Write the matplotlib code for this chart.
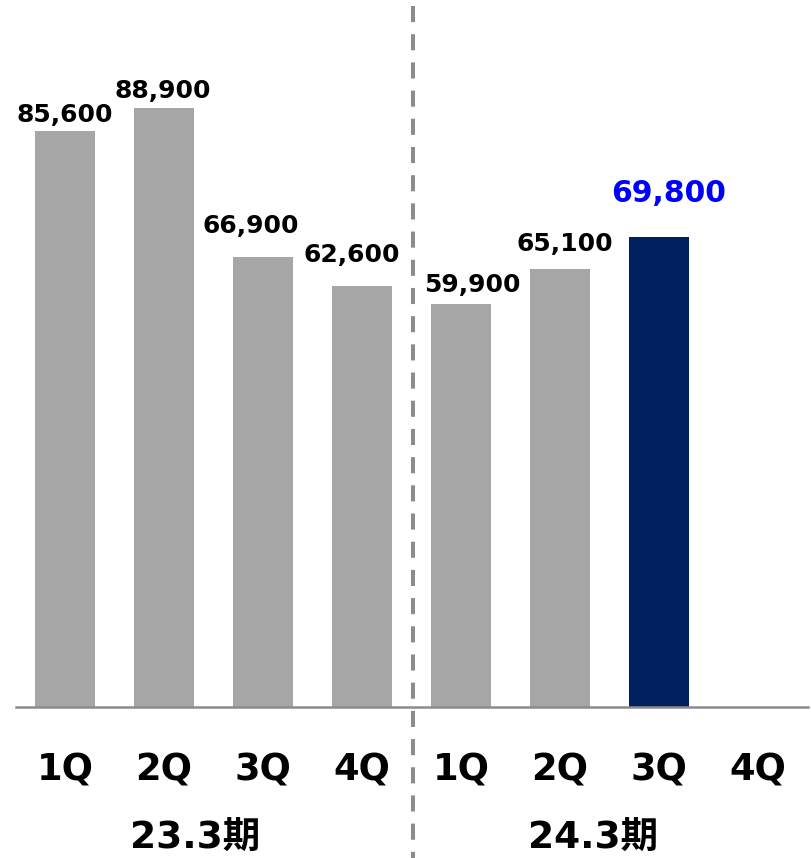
import matplotlib
matplotlib.use("Agg")
import matplotlib.pyplot as plt
import matplotlib.transforms as mtransforms

# ---- data ----
quarters = ["1Q", "2Q", "3Q", "4Q", "1Q", "2Q", "3Q", "4Q"]
periods = ["23.3期", "24.3期"]
values = [85600, 88900, 66900, 62600, 59900, 65100, 69800, None]
value_labels = ["85,600", "88,900", "66,900", "62,600", "59,900", "65,100", "69,800", ""]
highlight_index = 6

# ---- style ----
GRAY = "#A6A6A6"
NAVY = "#002060"
BLUE = "#0000FF"
LINE_GRAY = "#8C8C8C"
FONT = ["DejaVu Sans", "Noto Sans CJK JP"]
plt.rcParams["font.family"] = FONT

W, H = 811, 858
fig = plt.figure(figsize=(W / 100, H / 100), dpi=100)
ax_left, ax_right = 15.5, 807.5
ax_bottom_px = 707.3
ax = fig.add_axes([ax_left / W, (H - ax_bottom_px) / H, (ax_right - ax_left) / W, ax_bottom_px / H])
ax.set_xlim(-0.5, 7.5)
ax.set_ylim(0, 105000)

for i, v in enumerate(values):
    if v is None:
        continue
    ax.bar(i, v, width=0.6, color=NAVY if i == highlight_index else GRAY, zorder=2)

# label offsets (pixels: dx, gap above bar)
label_offsets = [(0, 9), (-1, 10), (-12, 24), (-10, 24), (11, 12), (5, 18), (9.5, 35)]
for i, v in enumerate(values):
    if v is None:
        continue
    dx, dy = label_offsets[i]
    hl = i == highlight_index
    ax.annotate(value_labels[i], xy=(i, v), xytext=(dx * 0.72, dy * 0.72),
                textcoords="offset points", ha="center", va="baseline",
                fontsize=21.5 if hl else 18, fontweight="bold",
                color=BLUE if hl else "black", family=FONT, annotation_clip=False)

for s in ["top", "right", "left"]:
    ax.spines[s].set_visible(False)
ax.spines["bottom"].set_color(LINE_GRAY)
ax.spines["bottom"].set_linewidth(1.8)
ax.spines["bottom"].set_zorder(3)
ax.set_xticks([])
ax.set_yticks([])

trans = mtransforms.blended_transform_factory(ax.transData, ax.transAxes)
# quarter labels
base_q = (ax_bottom_px - 780) / ax_bottom_px
for i, q in enumerate(quarters):
    ax.text(i, base_q, q, transform=trans, ha="center", va="baseline",
            fontsize=26.5, fontweight="bold", color="black", family=FONT)

# period labels
base_p = (ax_bottom_px - 849) / ax_bottom_px
for xc, p in zip([1.318, 5.333], periods):
    ax.text(xc, base_p, p, transform=trans, ha="center", va="baseline",
            fontsize=27, fontweight="bold", color="black", family=FONT)

# dashed divider
y_top = (ax_bottom_px - 6) / ax_bottom_px
y_bot = (ax_bottom_px - H) / ax_bottom_px
ax.plot([3.52, 3.52], [y_top, y_bot], transform=trans, color=LINE_GRAY,
        linewidth=2.9, dashes=(4, 3), clip_on=False, zorder=4,
        dash_capstyle="butt")

fig.savefig("out.png", dpi=100)
